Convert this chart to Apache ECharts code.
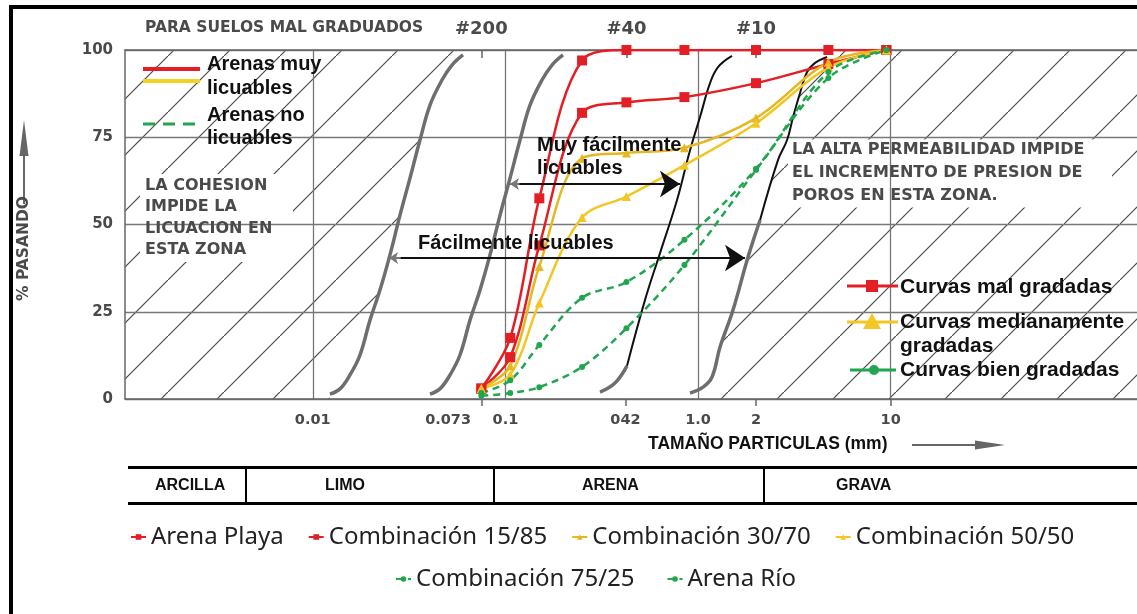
<!DOCTYPE html>
<html><head><meta charset="utf-8">
<script src="https://cdn.jsdelivr.net/npm/echarts@6/dist/echarts.min.js"></script>
<style>html,body{margin:0;padding:0;background:#fff}#c{width:1137px;height:614px}</style>
</head><body><div id="c"></div>
<script>
// ---------------- DATA ----------------
const sieveSizes = [0.075, 0.106, 0.15, 0.25, 0.425, 0.85, 2.0, 4.75, 9.5];
const arenaPlaya = [3, 17.5, 57.5, 97, 100, 100, 100, 100, 100];
const comb1585   = [3, 12, 44, 82, 85, 86.5, 90.5, 96, 100];
const comb3070   = [3, 9.5, 38, 69, 70.5, 72, 80.5, 96.5, 100];
const comb5050   = [3, 7, 27.5, 52, 58, 67, 79, 95, 100];
const comb7525   = [1.7, 5.4, 15.5, 29, 33.5, 45.6, 66, 93.7, 100];
const arenaRio   = [0.9, 1.7, 3.4, 9.2, 20.3, 38.4, 65.6, 92, 100];
const seriesNames = ['Arena Playa', 'Combinación 15/85', 'Combinación 30/70', 'Combinación 50/50', 'Combinación 75/25', 'Arena Río'];

// boundary curves of the liquefaction zones (mm, % passing)
const curveA_x = [0.01228, 0.01384, 0.0156, 0.01758, 0.01982, 0.02233, 0.02517, 0.02837, 0.03197, 0.03603, 0.04061, 0.04686, 0.05281, 0.06024];
const curveA_y = [1.4, 2.9, 6.9, 12.6, 22.6, 31.2, 41.3, 52.7, 63.3, 74.2, 84.2, 91.4, 95.7, 98.6];
const curveB_x = [0.0406, 0.0457, 0.0516, 0.0581, 0.0655, 0.0738, 0.0832, 0.0938, 0.1057, 0.1191, 0.1342, 0.1549, 0.1745, 0.1991];
const curveB_y = [1.4, 2.9, 6.9, 12.6, 22.6, 31.2, 41.3, 52.7, 63.3, 74.2, 84.2, 91.4, 95.7, 98.6];
const curveC_x = [0.3099, 0.3707, 0.4279, 0.5307, 0.6349, 0.778, 0.9088, 1.024, 1.154, 1.27, 1.501];
const curveC_y = [2.0, 4.6, 9.5, 28.4, 41.8, 57.0, 71.3, 80.8, 90.5, 95.1, 98.3];
const curveD_x = [0.9088, 1.062, 1.182, 1.301, 1.519, 1.818, 2.099, 2.603, 2.899, 3.114, 3.385, 3.681, 4.051, 4.677];
const curveD_y = [1.7, 3.4, 6.3, 14.9, 25.5, 40.7, 51.3, 68.5, 74.2, 80.8, 87.7, 93.7, 96.3, 98.0];

// arrows (mm at both ends, % level)
const arrowMuy = [0.1056, 0.806, 61.6];
const arrowFac = [0.0249, 1.754, 40.4];

// axis ticks / labels
const xTickValues = [0.01, 0.073, 0.1, 0.42, 1.0, 2, 10];
const xTickLabels = ['0.01', '0.073', '0.1', '042', '1.0', '2', '10'];
const xMarkValues = [0.075, 0.42, 2, 10];
const sieveTickValues = [0.075, 0.425, 2.0];
const sieveTickLabels = ['#200', '#40', '#10'];
const gridDecades = [0.01, 0.1, 1, 10];
const yTickStep = 25;

// ---------------- CHART ----------------
const X_MIN = 0.00106, X_MAX = 190;
const GRAY = '#4a4a4a', LINEGRAY = '#6e6e6e';
const RED = '#e31e24', YEL1 = '#e6b71e', YEL2 = '#f4c623', GRN = '#21a650';
const SCAN = 'DejaVu Sans';
const ARIAL = 'Liberation Sans';

function nearest(arr, v) {
  let bi = 0, bd = Infinity;
  arr.forEach((a, i) => { const d = Math.abs(Math.log10(a) - Math.log10(v)); if (d < bd) { bd = d; bi = i; } });
  return bi;
}
function pairs(xs, ys) { return xs.map((x, i) => [x, ys[i]]); }

const tile = document.createElement('canvas');
tile.width = 56; tile.height = 56;
(function () {
  const c = tile.getContext('2d');
  c.strokeStyle = '#4a4a4a'; c.lineWidth = 1.2;
  c.beginPath(); c.moveTo(-6, 62); c.lineTo(62, -6); c.stroke();
})();

const leftZone = [[X_MIN, 0], [curveA_x[0], 0]].concat(pairs(curveA_x, curveA_y)).concat([[curveA_x[curveA_x.length - 1], 100], [X_MIN, 100]]);
const rightZone = [[curveD_x[0], 0]].concat(pairs(curveD_x, curveD_y)).concat([[curveD_x[curveD_x.length - 1], 100], [X_MAX, 100], [X_MAX, 0]]);

function zoneSeries(points) {
  return {
    type: 'custom', silent: true, z: -3, xAxisIndex: 0,
    data: [[1, 50]],
    renderItem: function (params, api) {
      return {
        type: 'polygon',
        shape: { points: points.map(p => api.coord(p)) },
        style: { fill: { image: tile, repeat: 'repeat' }, stroke: null }
      };
    }
  };
}
// white boxes (pixel layout) behind the zone notes: they hide the hatching but not the grid
const noteBoxes = [[140, 174, 153, 88], [788, 139.5, 324, 68]];
const noteBoxSeries = {
  type: 'custom', silent: true, z: -2, xAxisIndex: 0,
  data: [[1, 50]],
  renderItem: function () {
    return { type: 'group', children: noteBoxes.map(b => ({ type: 'rect', shape: { x: b[0], y: b[1], width: b[2], height: b[3] }, style: { fill: '#fff' } })) };
  }
};
function boundary(xs, ys, color, width) {
  return {
    type: 'line', silent: true, z: 3, smooth: 0.4, showSymbol: false, symbol: 'none',
    data: pairs(xs, ys), lineStyle: { color: color, width: width }
  };
}
function dataSeries(name, vals, color, symbol, size, dashed) {
  return {
    name: name, type: 'line', z: 6, smooth: 0.35,
    data: sieveSizes.map((s, i) => [s, vals[i]]),
    symbol: symbol, symbolSize: size, showSymbol: true,
    itemStyle: { color: color },
    lineStyle: { color: color, width: 2.5, type: dashed ? [7, 5] : 'solid' }
  };
}
function arrowSeries(coords, color, sym) {
  return {
    type: 'lines', coordinateSystem: 'cartesian2d', silent: true, z: 7,
    symbol: sym, symbolSize: [9, 20],
    lineStyle: { color: color, width: 2, opacity: 1 },
    data: [{ coords: coords }]
  };
}

const C_split = 3, D_split = 7;
const series = [
  zoneSeries(leftZone), zoneSeries(rightZone), noteBoxSeries,
  boundary(curveA_x, curveA_y, LINEGRAY, 3.5),
  boundary(curveB_x, curveB_y, LINEGRAY, 3.5),
  boundary(curveC_x.slice(0, C_split), curveC_y.slice(0, C_split), LINEGRAY, 3.5),
  boundary(curveC_x.slice(C_split - 1), curveC_y.slice(C_split - 1), '#111', 2),
  boundary(curveD_x.slice(0, D_split), curveD_y.slice(0, D_split), LINEGRAY, 3.5),
  boundary(curveD_x.slice(D_split - 1), curveD_y.slice(D_split - 1), '#111', 2),
  arrowSeries([[arrowMuy[0], arrowMuy[2]], [arrowMuy[1], arrowMuy[2]]], '#111', ['none', 'arrow']),
  arrowSeries([[arrowMuy[0], arrowMuy[2]], [arrowMuy[0] * 1.12, arrowMuy[2]]], '#777', ['arrow', 'none']),
  arrowSeries([[arrowFac[0], arrowFac[2]], [arrowFac[1], arrowFac[2]]], '#111', ['none', 'arrow']),
  arrowSeries([[arrowFac[0], arrowFac[2]], [arrowFac[0] * 1.15, arrowFac[2]]], '#777', ['arrow', 'none']),
  dataSeries(seriesNames[0], arenaPlaya, RED, 'rect', 10, false),
  dataSeries(seriesNames[1], comb1585, RED, 'rect', 10, false),
  dataSeries(seriesNames[2], comb3070, YEL1, 'triangle', 9, false),
  dataSeries(seriesNames[3], comb5050, YEL2, 'triangle', 9, false),
  dataSeries(seriesNames[4], comb7525, GRN, 'circle', 6, true),
  dataSeries(seriesNames[5], arenaRio, GRN, 'circle', 6, true)
];

function txt(t, x, y, font, fill, extra) {
  return Object.assign({ type: 'text', z: 20, x: x, y: y,
    style: { text: t, font: font, fill: fill, textVerticalAlign: 'middle' } }, (extra || {}));
}
const scanFont = 'bold 16px "' + SCAN + '"';
const boldFont = 'bold 20px "' + ARIAL + '"';
const legFont = 'bold 21px "' + ARIAL + '"';
const graphics = [
  // outer frame
  { type: 'rect', z: 30, shape: { x: 9, y: 5, width: 1128, height: 4 }, style: { fill: '#000' } },
  { type: 'rect', z: 30, shape: { x: 9, y: 5, width: 4, height: 609 }, style: { fill: '#000' } },
  txt('PARA SUELOS MAL GRADUADOS', 145, 28, 'bold 15.5px "' + SCAN + '"', GRAY),
  // y axis title + arrow
  { type: 'line', z: 20, shape: { x1: 24, y1: 204, x2: 24, y2: 150 }, style: { stroke: '#666', lineWidth: 2 } },
  { type: 'polygon', z: 20, shape: { points: [[24, 120], [19.5, 156], [28.5, 156]] }, style: { fill: '#666' } },
  txt('% PASANDO', 24, 301, 'bold 15.5px "' + SCAN + '"', GRAY, { rotation: Math.PI / 2 }),
  // zone texts
  txt('LA COHESION', 145, 186, scanFont, GRAY),
  txt('IMPIDE LA', 145, 207, scanFont, GRAY),
  txt('LICUACION EN', 145, 229, scanFont, GRAY),
  txt('ESTA ZONA', 145, 250, scanFont, GRAY),
  txt('LA ALTA PERMEABILIDAD IMPIDE', 792, 150, scanFont, GRAY),
  txt('EL INCREMENTO DE PRESION DE', 792, 173, scanFont, GRAY),
  txt('POROS EN ESTA ZONA.', 792, 196, scanFont, GRAY),
  // annotations
  txt('Muy fácilmente', 537, 145, boldFont, '#111'),
  txt('licuables', 537, 168, boldFont, '#111'),
  txt('Fácilmente licuables', 418, 243, boldFont, '#111'),
  // top-left legend
  { type: 'line', z: 20, shape: { x1: 143, y1: 69, x2: 200, y2: 69 }, style: { stroke: RED, lineWidth: 4 } },
  { type: 'line', z: 20, shape: { x1: 143, y1: 81, x2: 200, y2: 81 }, style: { stroke: '#f3d21f', lineWidth: 4 } },
  { type: 'line', z: 20, shape: { x1: 143, y1: 124, x2: 200, y2: 124 }, style: { stroke: GRN, lineWidth: 3, lineDash: [12, 8] } },
  txt('Arenas muy', 207, 64, boldFont, '#111'),
  txt('licuables', 207, 88, boldFont, '#111'),
  txt('Arenas no', 207, 115, boldFont, '#111'),
  txt('licuables', 207, 138, boldFont, '#111'),
  // right legend
  { type: 'line', z: 20, shape: { x1: 847, y1: 286, x2: 898, y2: 286 }, style: { stroke: RED, lineWidth: 3 } },
  { type: 'rect', z: 21, shape: { x: 866, y: 280, width: 12, height: 12 }, style: { fill: RED } },
  txt('Curvas mal gradadas', 900, 287, legFont, '#111'),
  { type: 'line', z: 20, shape: { x1: 847, y1: 322, x2: 898, y2: 322 }, style: { stroke: YEL2, lineWidth: 3 } },
  { type: 'polygon', z: 21, shape: { points: [[872, 313], [863, 329], [881, 329]] }, style: { fill: YEL2 } },
  txt('Curvas medianamente', 900, 322, legFont, '#111'),
  txt('gradadas', 900, 346, legFont, '#111'),
  { type: 'line', z: 20, shape: { x1: 850, y1: 370, x2: 896, y2: 370 }, style: { stroke: GRN, lineWidth: 3 } },
  { type: 'circle', z: 21, shape: { cx: 874, cy: 370, r: 5 }, style: { fill: GRN } },
  txt('Curvas bien gradadas', 900, 370, legFont, '#111'),
  // x title + arrow
  txt('TAMAÑO PARTICULAS (mm)', 648, 444, 'bold 17.5px "' + ARIAL + '"', '#111'),
  { type: 'line', z: 20, shape: { x1: 912, y1: 445, x2: 985, y2: 445 }, style: { stroke: '#666', lineWidth: 2 } },
  { type: 'polygon', z: 20, shape: { points: [[1005, 445], [975, 440.5], [975, 449.5]] }, style: { fill: '#666' } },
  // table
  { type: 'rect', z: 20, shape: { x: 128, y: 466, width: 1009, height: 3 }, style: { fill: '#000' } },
  { type: 'rect', z: 20, shape: { x: 128, y: 502, width: 1009, height: 3 }, style: { fill: '#000' } },
  { type: 'rect', z: 20, shape: { x: 245, y: 467, width: 2, height: 37 }, style: { fill: '#000' } },
  { type: 'rect', z: 20, shape: { x: 493, y: 467, width: 2, height: 37 }, style: { fill: '#000' } },
  { type: 'rect', z: 20, shape: { x: 763, y: 467, width: 2, height: 37 }, style: { fill: '#000' } },
  txt('ARCILLA', 155, 486, 'bold 16px "' + ARIAL + '"', '#111'),
  txt('LIMO', 325, 486, 'bold 16px "' + ARIAL + '"', '#111'),
  txt('ARENA', 582, 486, 'bold 16px "' + ARIAL + '"', '#111'),
  txt('GRAVA', 836, 486, 'bold 16px "' + ARIAL + '"', '#111')
];
// draw annotations on their own layer, above the plotted series
graphics.forEach(g => { g.zlevel = 1; });

const axisCommon = { type: 'log', logBase: 10, min: X_MIN, max: X_MAX };
const legendText = { fontFamily: 'Noto Sans', fontSize: 24, color: '#222' };

const option = {
  animation: false,
  backgroundColor: '#fff',
  grid: { left: 125, right: 0, top: 50, bottom: 215, containLabel: false },
  legend: [
    { data: seriesNames.slice(0, 4), left: 130, top: 525, itemWidth: 15, itemHeight: 7, itemGap: 24, textStyle: legendText, selectedMode: false, padding: 0 },
    { data: seriesNames.slice(4), left: 395, top: 567, itemWidth: 15, itemHeight: 7, itemGap: 32, textStyle: legendText, selectedMode: false, padding: 0 }
  ],
  xAxis: [
    Object.assign({}, axisCommon, {
      position: 'bottom',
      axisLine: { show: true, lineStyle: { color: '#666', width: 1.5 } },
      axisTick: { show: true, customValues: xMarkValues, length: 7, lineStyle: { color: '#666', width: 1.5 } },
      axisLabel: {
        customValues: xTickValues, margin: 14, color: GRAY, fontFamily: SCAN, fontWeight: 'bold', fontSize: 14.5,
        formatter: function (v) { const t = xTickLabels[nearest(xTickValues, v)]; return t === '0.073' ? '{l|' + t + '}' : t; },
        rich: { l: { padding: [0, 62, 0, 0], color: GRAY, fontFamily: SCAN, fontWeight: 'bold', fontSize: 14.5 } }
      },
      splitLine: { show: false }
    }),
    Object.assign({}, axisCommon, {
      position: 'top',
      axisLine: { show: true, lineStyle: { color: '#666', width: 1.5 } },
      axisTick: { show: true, inside: true, customValues: sieveTickValues, length: 8, lineStyle: { color: '#666', width: 1.5 } },
      axisLabel: {
        customValues: sieveTickValues, margin: 12, color: GRAY, fontFamily: SCAN, fontWeight: 'bold', fontSize: 18,
        formatter: function (v) { return sieveTickLabels[nearest(sieveTickValues, v)]; }
      },
      splitLine: { show: false }
    }),
    Object.assign({}, axisCommon, {
      position: 'bottom',
      axisLine: { show: false },
      axisTick: { show: false, customValues: gridDecades },
      axisLabel: { show: false, customValues: gridDecades },
      splitLine: { show: true, lineStyle: { color: '#777', width: 1.3 } }
    })
  ],
  yAxis: {
    type: 'value', min: 0, max: 100, interval: yTickStep,
    axisLine: { show: true, lineStyle: { color: '#666', width: 1.5 } },
    axisTick: { show: false },
    axisLabel: { color: GRAY, fontFamily: SCAN, fontWeight: 'bold', fontSize: 15, margin: 12 },
    splitLine: { show: true, lineStyle: { color: '#777', width: 1.3 } }
  },
  series: series,
  graphic: graphics
};

const chart = echarts.init(document.getElementById('c'), null, { renderer: 'canvas' });
chart.setOption(option);
</script></body></html>
